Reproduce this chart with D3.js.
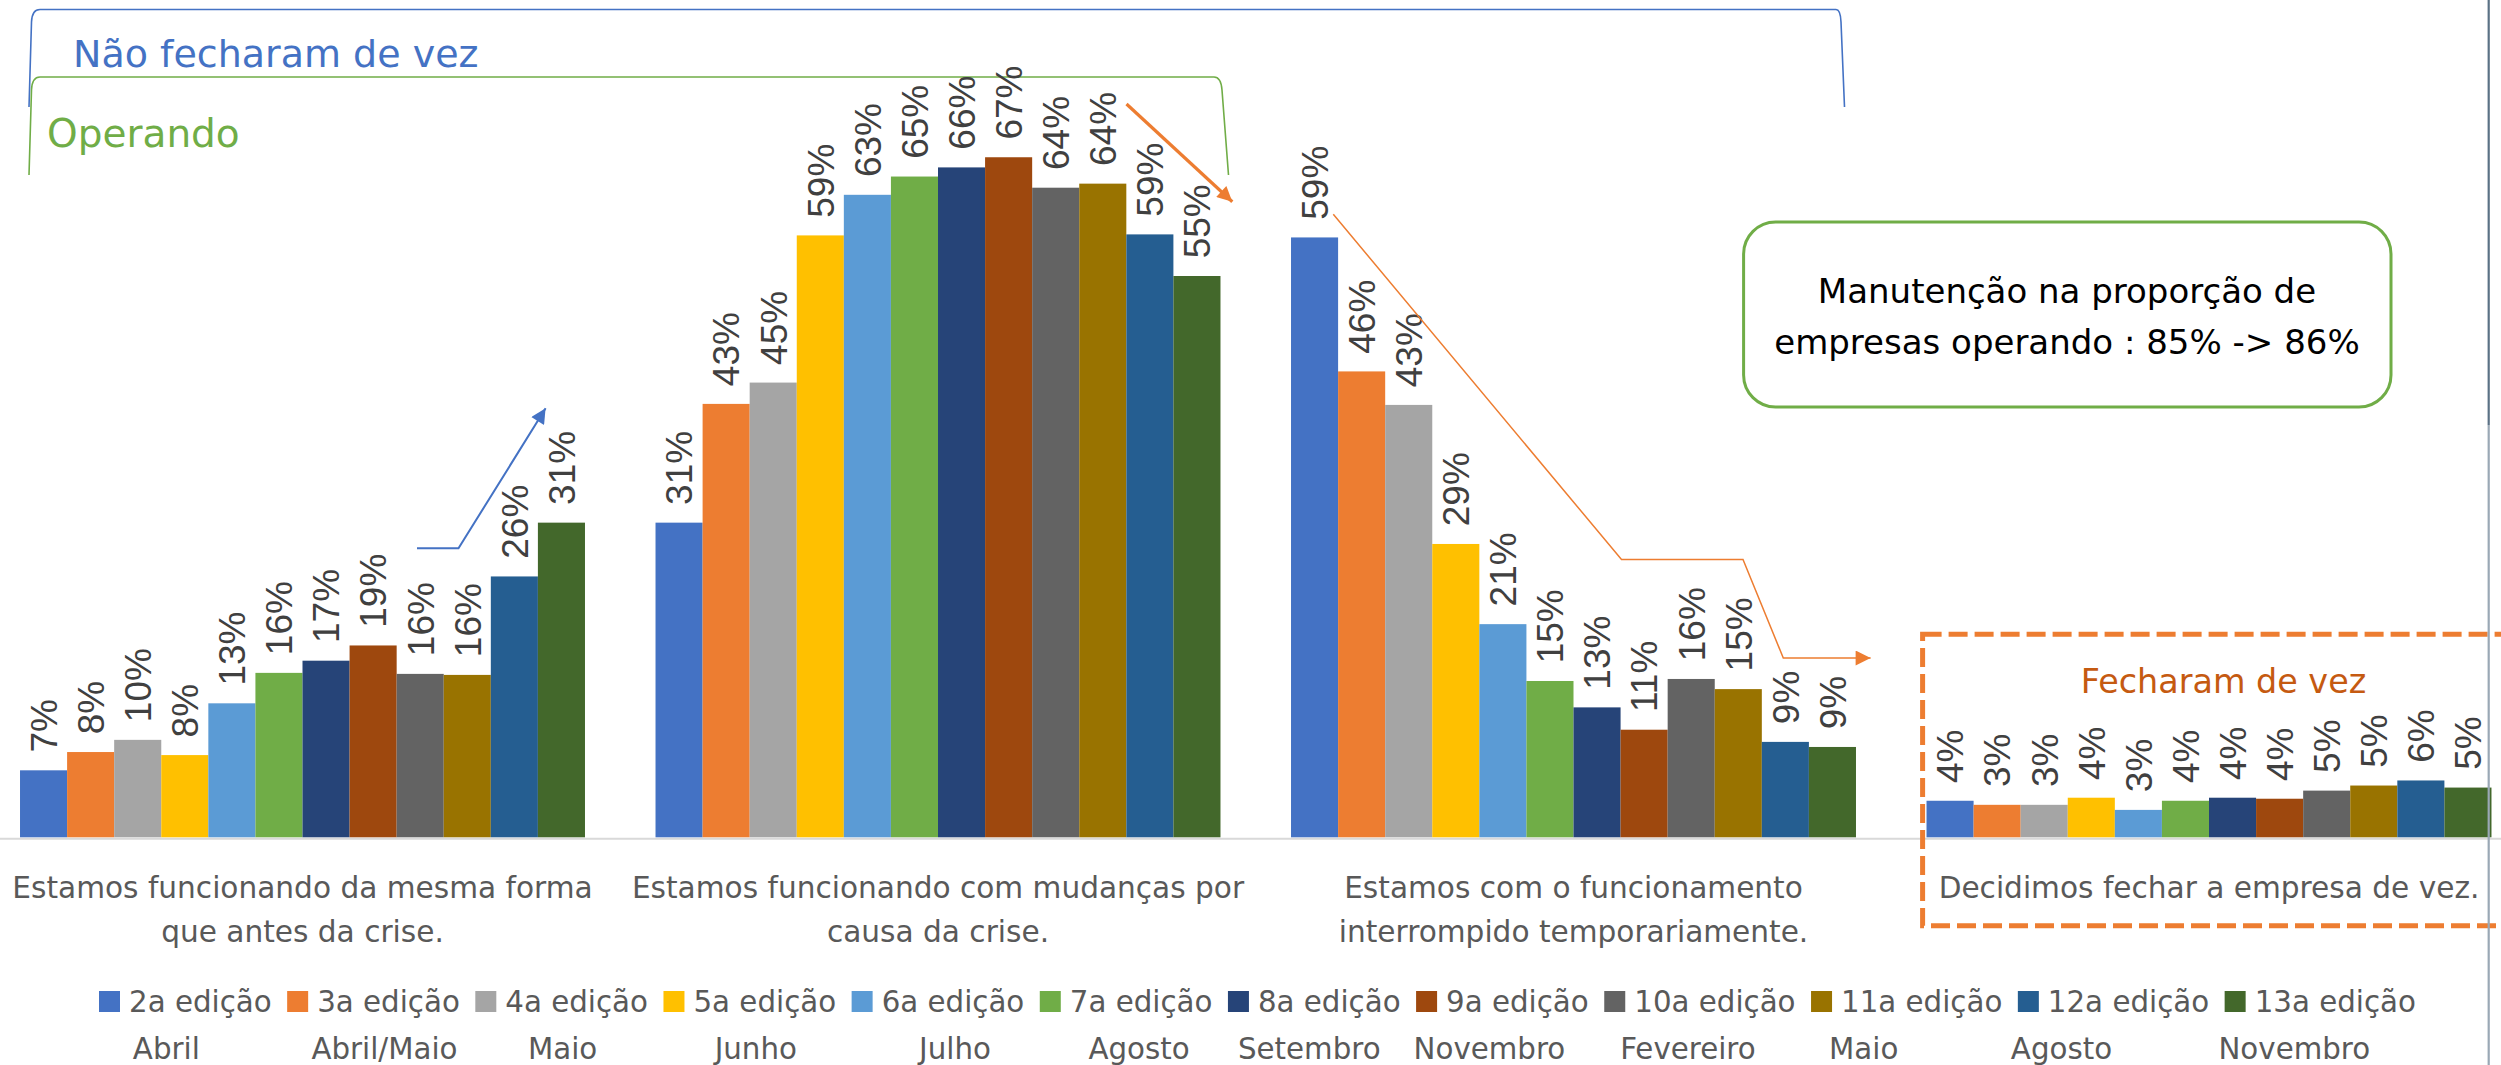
<!DOCTYPE html>
<html><head><meta charset="utf-8">
<script src="https://cdn.jsdelivr.net/npm/d3@7"></script>
<style>
html,body{margin:0;padding:0;background:#fff;}
svg{display:block;}
</style></head><body>
<svg id="chart" width="2501" height="1065"></svg>
<script>
// ---------- DATA ----------
const categories = [
  "Estamos funcionando da mesma forma\nque antes da crise.",
  "Estamos funcionando com mudanças por\ncausa da crise.",
  "Estamos com o funcionamento\ninterrompido temporariamente.",
  "Decidimos fechar a empresa de vez."
];
const editions = ["2a edição","3a edição","4a edição","5a edição","6a edição","7a edição",
                  "8a edição","9a edição","10a edição","11a edição","12a edição","13a edição"];
const months = ["Abril","Abril/Maio","Maio","Junho","Julho","Agosto",
                "Setembro","Novembro","Fevereiro","Maio","Agosto","Novembro"];
// values (%) per category, one per edition
const mesmaForma   = [6.6, 8.4, 9.6, 8.1, 13.2, 16.2, 17.4, 18.9, 16.1, 16.0, 25.7, 31.0];
const comMudancas  = [31.0, 42.7, 44.8, 59.3, 63.3, 65.1, 66.0, 67.0, 64.0, 64.4, 59.4, 55.3];
const interrompido = [59.1, 45.9, 42.6, 28.9, 21.0, 15.4, 12.8, 10.6, 15.6, 14.6, 9.4, 8.9];
const fecharam     = [3.6, 3.2, 3.2, 3.9, 2.7, 3.6, 3.9, 3.8, 4.6, 5.1, 5.6, 4.9];
const seriesByCategory = [mesmaForma, comMudancas, interrompido, fecharam];
const colors = ["#4472C4","#ED7D31","#A5A5A5","#FFC000","#5B9BD5","#70AD47",
                "#264478","#9E480E","#636363","#997300","#255E91","#43682B"];
const titleOuter = "Não fecharam de vez";
const titleInner = "Operando";
const titleClosed = "Fecharam de vez";
const noteLines = ["Manutenção na proporção de", "empresas operando : 85% -> 86%"];

// ---------- LAYOUT ----------
const W = 2501, H = 1065;
const baseY = 837.3;
const HFONT = "'DejaVu Sans', Verdana, sans-serif";
const LFONT = "'Liberation Sans Narrow', 'Arial Narrow', 'Liberation Sans', sans-serif";
const monthShift = [-34,-4,-14,-9,2,-2,-20,-28,-27,-58,-67,-41];

const svg = d3.select("#chart");
const rows = categories.map((c, i) => ({cat: c, vals: seriesByCategory[i]}));

const x0 = d3.scaleBand().domain(categories).range([-15.25, 2526.75])
  .paddingInner(0.111).paddingOuter(0.0555);
const x1 = d3.scaleBand().domain(editions).range([0, x0.bandwidth()]).padding(0);
const y = d3.scaleLinear().domain([0, 100]).range([baseY, baseY - 1015]);

// defs: arrowheads
const defs = svg.append("defs");
function marker(id, color) {
  defs.append("marker").attr("id", id).attr("viewBox", "0 0 10 10")
    .attr("refX", 10).attr("refY", 5).attr("markerUnits", "userSpaceOnUse")
    .attr("markerWidth", 16).attr("markerHeight", 15).attr("orient", "auto")
    .append("path").attr("d", "M0,0 L10,5 L0,10 Z").attr("fill", color);
}
marker("arrBlue", "#4472C4");
marker("arrOrange", "#ED7D31");

// brackets
svg.append("path")
  .attr("d", "M29,107 L31.5,22 Q32,9.5 40,9.5 L1836,9.5 Q1840.5,9.5 1841,22 L1844.5,107")
  .attr("fill", "none").attr("stroke", "#4472C4").attr("stroke-width", 1.6);
svg.append("path")
  .attr("d", "M29,175 L31.5,90 Q32,77 40,77 L1214,77 Q1221,77 1222,90 L1228.5,175")
  .attr("fill", "none").attr("stroke", "#70AD47").attr("stroke-width", 1.6);

svg.append("text").attr("x", 73).attr("y", 67).text(titleOuter)
  .attr("font-family", HFONT).attr("font-size", 38).attr("fill", "#4472C4");
svg.append("text").attr("x", 47).attr("y", 147).text(titleInner)
  .attr("font-family", HFONT).attr("font-size", 39).attr("fill", "#70AD47");

// axis line
const axis = svg.append("g").attr("transform", `translate(0,${baseY + 1})`)
  .call(d3.axisBottom(x0).tickSize(0).tickSizeOuter(0).tickFormat(() => ""));
axis.select(".domain").attr("stroke", "#D9D9D9").attr("stroke-width", 2);

// bars
const groups = svg.append("g").selectAll("g").data(rows).join("g")
  .attr("transform", d => `translate(${x0(d.cat)},0)`);
groups.selectAll("rect").data(d => d.vals.map((v, i) => ({ed: editions[i], v, i})))
  .join("rect")
  .attr("x", d => x1(d.ed)).attr("width", x1.bandwidth())
  .attr("y", d => y(d.v)).attr("height", d => y(0) - y(d.v))
  .attr("fill", d => colors[d.i]);

// data labels
groups.selectAll("text.lbl").data(d => d.vals.map((v, i) => ({ed: editions[i], v, i})))
  .join("text").attr("class", "lbl")
  .attr("transform", d => `translate(${x1(d.ed) + x1.bandwidth() / 2},${y(d.v) - 17.7}) rotate(-90)`)
  .attr("dy", "0.36em")
  .attr("font-family", LFONT).attr("font-size", 37).attr("fill", "#404040")
  .text(d => Math.round(d.v) + "%");

// category labels
categories.forEach(c => {
  const cx = x0(c) + x0.bandwidth() / 2;
  const t = svg.append("text").attr("text-anchor", "middle")
    .attr("font-family", HFONT).attr("font-size", 29.6).attr("fill", "#595959");
  c.split("\n").forEach((line, k) => {
    t.append("tspan").attr("x", cx).attr("y", 898 + k * 44).text(line);
  });
});

// dashed box for closed companies
svg.append("rect").attr("x", 1922.6).attr("y", 634.3).attr("width", 700).attr("height", 291.4)
  .attr("fill", "none").attr("stroke", "#ED7D31").attr("stroke-width", 5)
  .attr("stroke-dasharray", "19,7");
svg.append("text").attr("x", 2223.5).attr("y", 693).attr("text-anchor", "middle")
  .attr("font-family", HFONT).attr("font-size", 33.4).attr("fill", "#C55A11").text(titleClosed);

// arrows
svg.append("path").attr("d", "M417,548.3 L458.5,548.3 L545.6,408.3")
  .attr("fill", "none").attr("stroke", "#4472C4").attr("stroke-width", 2)
  .attr("marker-end", "url(#arrBlue)");
svg.append("path").attr("d", "M1126.5,104 L1232.3,201.7")
  .attr("fill", "none").attr("stroke", "#ED7D31").attr("stroke-width", 3.2)
  .attr("marker-end", "url(#arrOrange)");
svg.append("path").attr("d", "M1333.3,214.3 L1621.5,559.5 L1743,559.5 L1783.3,658 L1870.6,658")
  .attr("fill", "none").attr("stroke", "#ED7D31").attr("stroke-width", 1.5)
  .attr("marker-end", "url(#arrOrange)");

// note box
svg.append("rect").attr("x", 1743.6).attr("y", 222).attr("width", 647.4).attr("height", 185)
  .attr("rx", 32).attr("ry", 32)
  .attr("fill", "#fff").attr("stroke", "#70AD47").attr("stroke-width", 3);
const nt = svg.append("text").attr("text-anchor", "middle")
  .attr("font-family", HFONT).attr("font-size", 34).attr("fill", "#000");
noteLines.forEach((l, k) => nt.append("tspan").attr("x", 2067).attr("y", 303 + k * 51).text(l));

// legend
const lg = svg.append("g").attr("font-family", HFONT).attr("font-size", 29.3).attr("fill", "#595959");
let lx = 99;
editions.forEach((e, i) => {
  lg.append("rect").attr("x", lx).attr("y", 991).attr("width", 21).attr("height", 21).attr("fill", colors[i]);
  const t = lg.append("text").attr("x", lx + 30).attr("y", 1011.7).text(e);
  const w = t.node().getComputedTextLength();
  lg.append("text").attr("x", lx + 30 + w / 2 + monthShift[i]).attr("y", 1059)
    .attr("text-anchor", "middle").text(months[i]);
  lx += 30 + w + 15.5;
});

// right edge line of slide
svg.append("line").attr("x1", 2488.7).attr("x2", 2488.7).attr("y1", 0).attr("y2", 425)
  .attr("stroke", "#5B7185").attr("stroke-width", 2.2);
svg.append("line").attr("x1", 2488.7).attr("x2", 2488.7).attr("y1", 425).attr("y2", H)
  .attr("stroke", "#9AA8B5").attr("stroke-width", 2.2);
</script>
</body></html>
